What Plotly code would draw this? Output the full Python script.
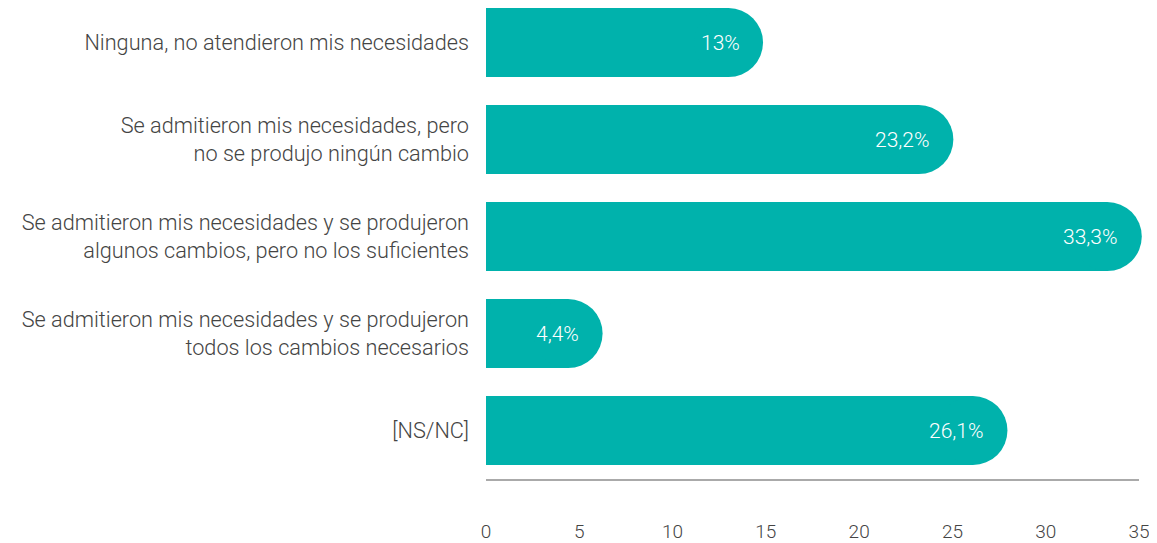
import plotly.graph_objects as go

categories = [
    "Ninguna, no atendieron mis necesidades",
    "Se admitieron mis necesidades, pero<br>no se produjo ningún cambio",
    "Se admitieron mis necesidades y se produjeron<br>algunos cambios, pero no los suficientes",
    "Se admitieron mis necesidades y se produjeron<br>todos los cambios necesarios",
    "[NS/NC]",
]
values = [13, 23.2, 33.3, 4.4, 26.1]
value_labels = ["13%", "23,2%", "33,3%", "4,4%", "26,1%"]

TEAL = "#00B2AC"
BAR_PX = 69

fig = go.Figure()

# flat part of each bar
fig.add_trace(go.Bar(
    x=values, y=categories, orientation="h",
    marker=dict(color=TEAL, line=dict(width=0)),
    width=0.71, hoverinfo="skip",
))

# round cap at the end of each bar
fig.add_trace(go.Scatter(
    x=values, y=categories, mode="markers",
    marker=dict(color=TEAL, size=BAR_PX, symbol="circle", line=dict(width=0)),
    cliponaxis=False, hoverinfo="skip",
))

for v, c, t in zip(values, categories, value_labels):
    fig.add_annotation(
        x=v, y=c, text=t, showarrow=False, xanchor="right", xshift=13,
        font=dict(family="Roboto", size=21, color="white", weight=300),
    )

# page body adds 8px, so the figure is 8px smaller
fig.update_layout(
    width=1149, height=535,
    margin=dict(l=478, r=18, t=0, b=64),
    plot_bgcolor="white", paper_bgcolor="white",
    showlegend=False, bargap=0.29,
    font=dict(family="Roboto", size=21, color="#444444", weight=300),
)
fig.update_xaxes(
    range=[0, 35], tickvals=[0, 5, 10, 15, 20, 25, 30, 35],
    showgrid=False, zeroline=False, showline=True, linecolor="#AAAAAA", linewidth=1.5,
    tickfont=dict(family="Roboto", size=19, color="#444444", weight=300),
    ticks="", ticklabelstandoff=34,
)
fig.update_yaxes(
    type="category", categoryorder="array", categoryarray=categories,
    range=[4.5, -0.356], showgrid=False, zeroline=False, showline=False,
    ticks="", ticklabelstandoff=16,
    tickfont=dict(family="Roboto", size=21.7, color="#444444", weight=300),
)

fig.write_html("out.html")
